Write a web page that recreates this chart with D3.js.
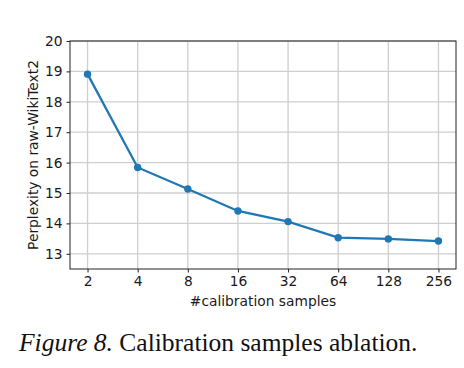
<!DOCTYPE html>
<html>
<head>
<meta charset="utf-8">
<script src="https://cdn.jsdelivr.net/npm/d3@7"></script>
<style>
  body { margin: 0; background: #fff; }
  text { font-family: "DejaVu Sans", sans-serif; }
</style>
</head>
<body>
<div id="chart"></div>
<script>
// data
const sampleLabels = ["2", "4", "8", "16", "32", "64", "128", "256"];
const perplexity = [18.91, 15.84, 15.13, 14.41, 14.06, 13.53, 13.49, 13.42];
const yTicks = [13, 14, 15, 16, 17, 18, 19, 20];

const W = 464, H = 368;
const margin = { top: 41, right: 8, bottom: 99, left: 70 };
const width = W - margin.left - margin.right;
const height = H - margin.top - margin.bottom;

const svg = d3.select("#chart").append("svg")
    .attr("width", W)
    .attr("height", H);

const g = svg.append("g")
    .attr("transform", `translate(${margin.left}, ${margin.top})`);

// x is categorical (log2 spaced), use index positions
const x = d3.scaleLinear()
    .domain([-0.35, sampleLabels.length - 1 + 0.35])
    .range([0, width]);

const y = d3.scaleLinear()
    .domain([12.5, 20])
    .range([height, 0]);

// grid
g.append("g")
    .selectAll("line.vgrid")
    .data(sampleLabels)
    .join("line")
    .attr("x1", (d, i) => x(i)).attr("x2", (d, i) => x(i))
    .attr("y1", 0).attr("y2", height)
    .style("stroke", "#cfcfcf")
    .style("stroke-width", 1.3);

g.append("g")
    .selectAll("line.hgrid")
    .data(yTicks)
    .join("line")
    .attr("x1", 0).attr("x2", width)
    .attr("y1", d => y(d)).attr("y2", d => y(d))
    .style("stroke", "#cfcfcf")
    .style("stroke-width", 1.3);

// axes
const xAxis = d3.axisBottom(x)
    .tickValues(d3.range(sampleLabels.length))
    .tickFormat(i => sampleLabels[i])
    .tickSize(3.5).tickPadding(4);

const yAxis = d3.axisLeft(y)
    .tickValues(yTicks)
    .tickSize(3.5).tickPadding(4);

const xg = g.append("g")
    .attr("transform", `translate(0, ${height})`)
    .call(xAxis);
const yg = g.append("g").call(yAxis);

[xg, yg].forEach(ax => {
    ax.select(".domain").remove();
    ax.selectAll("text")
        .style("font-family", "DejaVu Sans, sans-serif")
        .style("font-size", "13.8px")
        .style("fill", "#1a1a1a");
    ax.selectAll("line").style("stroke", "#222");
});

// frame
g.append("rect")
    .attr("width", width)
    .attr("height", height)
    .style("fill", "none")
    .style("stroke", "#222")
    .style("stroke-width", 1);

// line + markers
const line = d3.line()
    .x((d, i) => x(i))
    .y(d => y(d));

g.append("path")
    .datum(perplexity)
    .attr("d", line)
    .style("fill", "none")
    .style("stroke", "#1f77b4")
    .style("stroke-width", 2.3);

g.selectAll("circle.pt")
    .data(perplexity)
    .join("circle")
    .attr("cx", (d, i) => x(i))
    .attr("cy", d => y(d))
    .attr("r", 3.7)
    .style("fill", "#1f77b4");

// labels
g.append("text")
    .attr("x", width / 2)
    .attr("y", height + 37)
    .attr("text-anchor", "middle")
    .style("font-size", "13.8px")
    .style("fill", "#1a1a1a")
    .text("#calibration samples");

g.append("text")
    .attr("transform", "rotate(-90)")
    .attr("x", -height / 2)
    .attr("y", -32)
    .attr("text-anchor", "middle")
    .style("font-size", "13.8px")
    .style("fill", "#1a1a1a")
    .text("Perplexity on raw-WikiText2");

// caption
const cap = svg.append("text")
    .attr("x", 19)
    .attr("y", 351)
    .style("font-family", "Liberation Serif, Times New Roman, serif")
    .style("font-size", "25.5px")
    .style("fill", "#111");
cap.append("tspan").style("font-style", "italic").text("Figure 8.");
cap.append("tspan").text(" Calibration samples ablation.");
</script>
</body>
</html>
